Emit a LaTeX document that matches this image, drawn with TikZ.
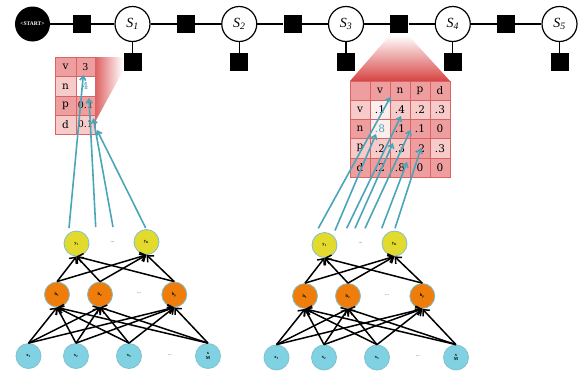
\documentclass[tikz,border=0pt]{standalone}
\usepackage{fontspec}
\setmainfont{Liberation Serif}
\newfontfamily\tabfont{DejaVu Serif}
\usetikzlibrary{arrows.meta}
\definecolor{teal2}{HTML}{4AA5B9}
\definecolor{nnyellow}{HTML}{E3DA2E}
\definecolor{nnorange}{HTML}{EF7D0C}
\definecolor{nnblue}{HTML}{80D2E2}
\definecolor{nnborder}{HTML}{7FBFCE}
\definecolor{celldark}{HTML}{EE9E9E}
\definecolor{celllight}{HTML}{F8CBCB}
\definecolor{cellwhite}{HTML}{FDEEEE}
\definecolor{cellline}{HTML}{D86464}
\definecolor{wedgered}{HTML}{D84444}
\tikzset{
 varnode/.style={circle, draw, line width=1.2pt, fill=white, minimum size=35pt, inner sep=0pt, font=\fontsize{14}{14}\selectfont\itshape},
 startnode/.style={circle, fill=black, minimum size=35pt, inner sep=0pt, text=white, font=\fontsize{5.5}{5.5}\selectfont\bfseries},
 factor/.style={rectangle, fill=black, minimum size=18pt, inner sep=0pt},
 chain/.style={line width=1.2pt},
 nn/.style={circle, draw=nnborder, line width=0.8pt, minimum size=25pt, inner sep=0pt, font=\fontsize{4.5}{4.5}\selectfont\bfseries, align=center},
 ynode/.style={nn, fill=nnyellow},
 hnode/.style={nn, fill=nnorange},
 xnode/.style={nn, fill=nnblue},
 dotsnode/.style={inner sep=0pt, font=\fontsize{5}{5}\selectfont, text=black!60!blue},
 nnarrow/.style={line width=1.5pt, -{Straight Barb[length=5pt,width=9pt]}},
 tarrow/.style={draw=teal2, line width=1.6pt, -{Straight Barb[length=4pt,width=6pt]}},
 cell/.style={rectangle, draw=cellline, line width=0.6pt, inner sep=0pt, font=\tabfont\fontsize{10.5}{10.5}\selectfont},
}
\begin{document}
\begin{tikzpicture}[x=1pt,y=-1pt]
\useasboundingbox (0,0) rectangle (585,375);
% wedges
\shade[top color=white, bottom color=wedgered] (390,35) -- (408,35) -- (450,81) -- (350,81) -- cycle;
\shade[left color=wedgered!85, right color=white] (95,57) -- (123,57) -- (123,71) -- (95,122) -- cycle;
% chain
\node[startnode] (start) at (32.5,24) {<START>};
\foreach \i/\x in {1/132.5,2/239.25,3/346,4/452.75,5/559.5}{
  \node[varnode] (s\i) at (\x,24) {S\textsubscript{\i}};
  \node[factor] (u\i) at (\x,62) {};
  \draw[chain] (s\i) -- (u\i);
}
\node[factor] (f0) at (82,24) {};
\node[factor] (f1) at (185.9,24) {};
\node[factor] (f2) at (292.6,24) {};
\node[factor] (f3) at (399.4,24) {};
\node[factor] (f4) at (506.1,24) {};
\draw[chain] (start) -- (f0) -- (s1) -- (f1) -- (s2) -- (f2) -- (s3) -- (f3) -- (s4) -- (f4) -- (s5);
% left table
\foreach \r/\y/\lab/\val/\ca/\cb/\tc in {1/66.75/v/3/celldark/celldark/black,2/86.25/n/4/celllight/white/teal2,3/105.5/p/0.1/celldark/celldark/black,4/124.5/d/0.1/celllight/celllight/black}{
  \node[cell, fill=\ca, minimum width=21pt, minimum height=19.25pt] (L-\r-1) at (65.5,\y) {\lab};
  \node[cell, fill=\cb, minimum width=19pt, minimum height=19.25pt, text=\tc] (L-\r-2) at (85.5,\y) {\fontsize{9.5}{9.5}\selectfont\val};
}
% right table
\foreach \c/\x/\t in {1/360/{},2/380/v,3/400/n,4/420/p,5/440/d}{
  \node[cell, fill=celldark, minimum width=20pt, minimum height=19.2pt] (R-0-\c) at (\x,90.6) {\t};
}
\foreach \r/\y/\lab/\a/\b/\cc/\d/\fa/\fb/\fc/\fd/\fe in {
 1/109.8/v/.1/.4/.2/.3/celllight/cellwhite/celllight/celllight/celllight,
 2/129/n/\textcolor{teal2}{.8}/.1/.1/0/celldark/cellwhite/celldark/celldark/celldark,
 3/148.2/p/.2/.3/.2/.3/celllight/celllight/celllight/celldark/celllight,
 4/167.4/d/.2/.8/0/0/celldark/celldark/celldark/celldark/celldark}{
  \node[cell, fill=\fa, minimum width=20pt, minimum height=19.2pt] (R-\r-1) at (360,\y) {\lab};
  \node[cell, fill=\fb, minimum width=20pt, minimum height=19.2pt] (R-\r-2) at (380,\y) {\a};
  \node[cell, fill=\fc, minimum width=20pt, minimum height=19.2pt] (R-\r-3) at (400,\y) {\b};
  \node[cell, fill=\fd, minimum width=20pt, minimum height=19.2pt] (R-\r-4) at (420,\y) {\cc};
  \node[cell, fill=\fe, minimum width=20pt, minimum height=19.2pt] (R-\r-5) at (440,\y) {\d};
}
% neural networks
\foreach \p/\dx/\dy in {L/0/0,R/248/1.5}{
 \begin{scope}[shift={(\dx,\dy)}]
  \node[ynode] (\p y1) at (76.5,243.5) {y\textsubscript{1}};
  \node[ynode] (\p yk) at (146.5,242) {y\textsubscript{K}};
  \node[dotsnode] (\p yd) at (112.5,242) {...};
  \node[hnode] (\p h1) at (57,294.5) {h\textsubscript{1}};
  \node[hnode] (\p h2) at (100,294.5) {h\textsubscript{2}};
  \node[dotsnode] (\p hd) at (139,293.5) {...};
  \node[hnode] (\p hp) at (174.3,294.5) {h\textsubscript{p}};
  \node[xnode] (\p x1) at (28.5,356) {x\textsubscript{1}};
  \node[xnode] (\p x2) at (76,356) {x\textsubscript{2}};
  \node[xnode] (\p x3) at (129,356) {x\textsubscript{3}};
  \node[dotsnode] (\p xd) at (170,355) {...};
  \node[xnode] (\p xM) at (208,356) {x\\M};
  \foreach \a in {x1,x2,x3,xM}{
    \foreach \b in {h1,h2,hp}{
      \draw[nnarrow] (\p\a.north) -- (\p\b.south);
    }
  }
  \foreach \a in {h1,h2,hp}{
    \foreach \b in {y1,yk}{
      \draw[nnarrow] (\p\a.north) -- (\p\b.south);
    }
  }
 \end{scope}
}
% teal arrows
\coordinate (la1) at (69,228);   \coordinate (lb1) at (83.3,75);
\coordinate (la2) at (95.7,227); \coordinate (lb2) at (89,98);
\coordinate (la3) at (113,227);  \coordinate (lb3) at (93.3,118.3);
\coordinate (la4) at (145.7,228);\coordinate (lb4) at (97,130);
\foreach \i in {1,2,3,4}{ \draw[tarrow] (la\i) -- (lb\i); }
\coordinate (ra1) at (318.3,228.3); \coordinate (rb1) at (390.5,97);
\coordinate (ra2) at (335,230.5);   \coordinate (rb2) at (376,134);
\coordinate (ra3) at (346.7,228.3); \coordinate (rb3) at (401,116);
\coordinate (ra4) at (355,228.3);   \coordinate (rb4) at (393,143);
\coordinate (ra5) at (365,228.3);   \coordinate (rb5) at (410.5,130);
\coordinate (ra6) at (381.7,228.3); \coordinate (rb6) at (407,162);
\coordinate (ra7) at (395,228.3);   \coordinate (rb7) at (421,148);
\foreach \i in {1,...,7}{ \draw[tarrow] (ra\i) -- (rb\i); }
\end{tikzpicture}
\end{document}
